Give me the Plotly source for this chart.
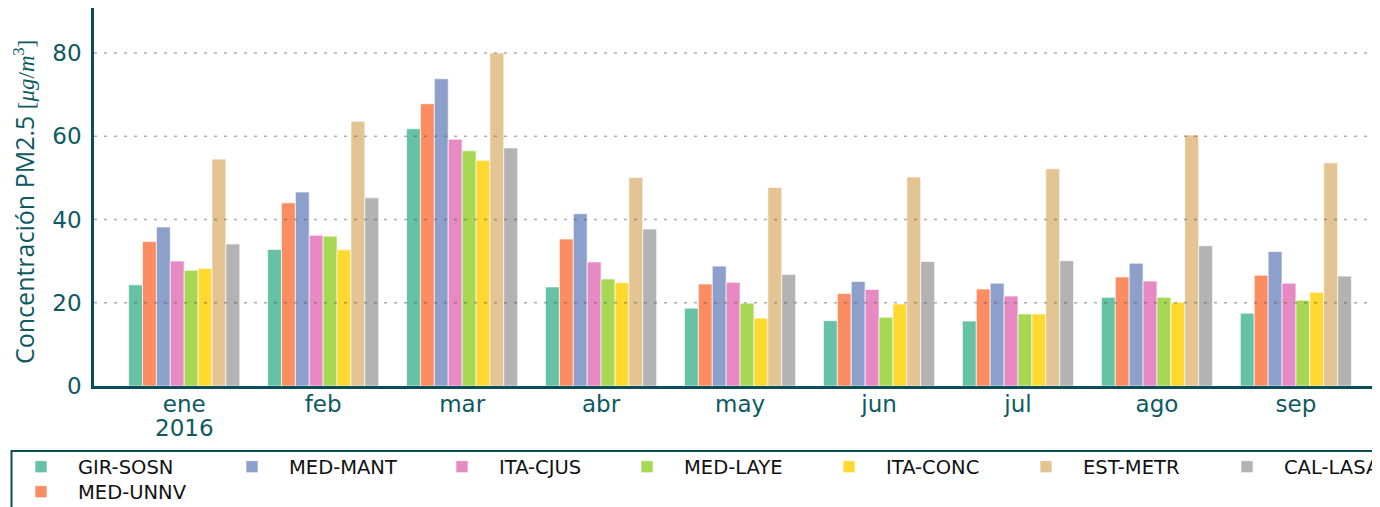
import plotly.graph_objects as go

# ---- data ----
months = ["ene", "feb", "mar", "abr", "may", "jun", "jul", "ago", "sep"]
year_label = "2016"
stations = ["GIR-SOSN", "MED-UNNV", "MED-MANT", "ITA-CJUS", "MED-LAYE", "ITA-CONC", "EST-METR", "CAL-LASA"]
gir_sosn = [24.3, 32.8, 61.8, 23.8, 18.7, 15.7, 15.6, 21.3, 17.5]
med_unnv = [34.7, 44.0, 67.8, 35.3, 24.5, 22.2, 23.3, 26.2, 26.6]
med_mant = [38.2, 46.6, 73.8, 41.4, 28.8, 25.1, 24.7, 29.5, 32.3]
ita_cjus = [30.0, 36.2, 59.3, 29.8, 24.9, 23.2, 21.6, 25.2, 24.7]
med_laye = [27.8, 36.0, 56.5, 25.7, 19.9, 16.5, 17.3, 21.3, 20.6]
ita_conc = [28.2, 32.7, 54.2, 24.8, 16.3, 19.7, 17.3, 20.1, 22.5]
est_metr = [54.5, 63.6, 80.0, 50.1, 47.7, 50.2, 52.2, 60.3, 53.6]
cal_lasa = [34.1, 45.2, 57.2, 37.7, 26.8, 29.9, 30.1, 33.7, 26.4]
series = [gir_sosn, med_unnv, med_mant, ita_cjus, med_laye, ita_conc, est_metr, cal_lasa]
y_ticks = [0, 20, 40, 60, 80]

# ---- style ----
colors = ["#66c2a5", "#fc8d62", "#8da0cb", "#e78ac3", "#a6d854", "#ffd92f", "#e5c494", "#b3b3b3"]
legend_ids = ["legend", "legend8", "legend2", "legend3", "legend4", "legend5", "legend6", "legend7"]
TEAL_TXT = "#0d5962"
TEAL_LINE = "#0c4e58"

OFF = 8  # page offset of the figure (body margin)
W, H = 1380 - OFF, 507 - OFF
ML, MR, MT, MB = 86, 0, 0, 121
PW, PH = W - ML - MR, H - MT - MB
XR = [-0.649, 8.605]
YR = [0, 90.8]

def px_x(p):  # page pixel -> paper x
    return (p - OFF - ML) / PW

def px_y(p):  # page pixel -> paper y
    return (H - MB - (p - OFF)) / PH

fig = go.Figure()
for name, vals, col, lg in zip(stations, series, colors, legend_ids):
    fig.add_trace(go.Bar(
        x=months, y=vals, name=name, legend=lg,
        marker=dict(color=col, line=dict(color="rgba(255,255,255,0.65)", width=1)),
    ))

# legends positioned like matplotlib columns (page pixels)
legend_pos = {
    "legend": (4, 447.5), "legend8": (4, 472.5),
    "legend2": (215, 447.5), "legend3": (425, 447.5), "legend4": (610, 447.5),
    "legend5": (812, 447.5), "legend6": (1009, 447.5), "legend7": (1210, 447.5),
}
leg_common = dict(
    font=dict(family="DejaVu Sans", size=19.5, color="#111111"),
    bgcolor="rgba(0,0,0,0)", borderwidth=0, itemwidth=64,
    xanchor="left", yanchor="top", orientation="v",
)
legends = {k: dict(leg_common, x=px_x(v[0]), y=px_y(v[1])) for k, v in legend_pos.items()}

fig.update_layout(
    width=W, height=H,
    margin=dict(l=ML, r=MR, t=MT, b=MB, pad=0, autoexpand=False),
    paper_bgcolor="white", plot_bgcolor="white",
    barmode="group", bargap=0.2, bargroupgap=0,
    showlegend=True,
    **legends,
)

fig.update_xaxes(
    range=XR, type="category", automargin=False,
    showline=True, linewidth=2.5, linecolor=TEAL_LINE, mirror=True,
    showgrid=False, ticks="",
    tickfont=dict(family="DejaVu Sans", size=23, color=TEAL_TXT),
    ticklabelstandoff=-4,
)
fig.update_yaxes(
    range=YR, tickvals=y_ticks, automargin=False,
    showline=True, linewidth=2.5, linecolor=TEAL_LINE, mirror=False,
    showgrid=False, zeroline=False, ticks="",
    tickfont=dict(family="DejaVu Sans", size=23, color=TEAL_TXT),
    ticklabelstandoff=5,
)

# dotted gridlines drawn above bars
for v in y_ticks[1:]:
    fig.add_shape(type="line", xref="paper", yref="y", x0=0, x1=1, y0=v, y1=v,
                  line=dict(color="rgba(70,70,70,0.45)", width=1.5, dash="3px,7px"),
                  layer="above")

# legend frame
fig.add_shape(type="rect", xref="paper", yref="paper",
              x0=px_x(11.5), x1=px_x(1400), y0=px_y(451), y1=px_y(530),
              line=dict(color=TEAL_LINE, width=2), fillcolor="rgba(0,0,0,0)", layer="above")

# year under first tick
fig.add_annotation(x=months[0], y=px_y(428), xref="x", yref="paper",
                   text=year_label, showarrow=False, xanchor="center", yanchor="middle",
                   font=dict(family="DejaVu Sans", size=23, color=TEAL_TXT))

# y axis title
fig.add_annotation(x=px_x(24), y=px_y(202), xref="paper", yref="paper",
                   text="Concentración PM2.5 <span style='font-family:Liberation Serif;font-size:23px'>[<i>μg</i>/<i>m</i><sup>3</sup>]</span>",
                   textangle=-90, showarrow=False, xanchor="center", yanchor="middle",
                   font=dict(family="Open Sans", size=25, color=TEAL_TXT))

fig.write_html("out.html")
